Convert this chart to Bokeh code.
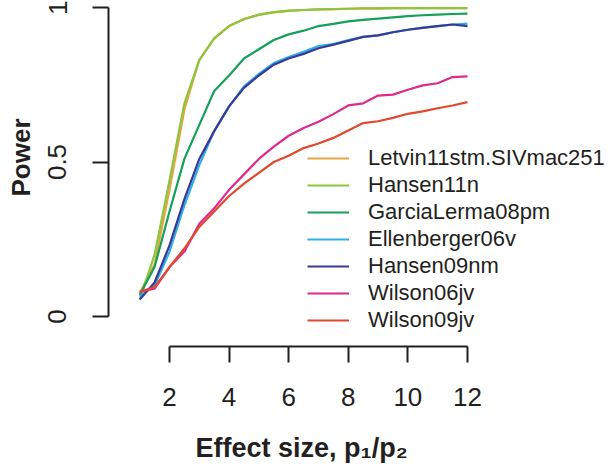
from bokeh.plotting import figure
from bokeh.models import Range1d, FixedTicker, Title
from bokeh.embed import file_html
from bokeh.resources import INLINE

# ---- data ----
effect = [1, 1.5, 2, 2.5, 3, 3.5, 4, 4.5, 5, 5.5, 6, 6.5, 7, 7.5, 8, 8.5,
          9, 9.5, 10, 10.5, 11, 11.5, 12]

letvin11stm = [0.075, 0.17, 0.41, 0.67, 0.83, 0.90, 0.94, 0.962, 0.976, 0.984,
               0.989, 0.992, 0.994, 0.995, 0.996, 0.997, 0.997, 0.998, 0.998,
               0.998, 0.998, 0.998, 0.998]
hansen11n = [0.055, 0.20, 0.44, 0.69, 0.83, 0.90, 0.94, 0.963, 0.977, 0.985,
             0.990, 0.992, 0.994, 0.995, 0.996, 0.997, 0.997, 0.998, 0.998,
             0.998, 0.998, 0.998, 0.998]
garcialerma08pm = [0.07, 0.16, 0.34, 0.51, 0.62, 0.73, 0.78, 0.835, 0.865, 0.895,
                   0.913, 0.925, 0.94, 0.947, 0.955, 0.96, 0.964, 0.968, 0.972,
                   0.975, 0.977, 0.979, 0.98]
ellenberger06v = [0.065, 0.10, 0.21, 0.36, 0.49, 0.60, 0.68, 0.745, 0.785, 0.82,
                  0.84, 0.857, 0.875, 0.882, 0.895, 0.905, 0.91, 0.92, 0.928,
                  0.935, 0.94, 0.945, 0.948]
hansen09nm = [0.055, 0.11, 0.23, 0.38, 0.51, 0.60, 0.68, 0.74, 0.78, 0.815,
              0.835, 0.85, 0.868, 0.88, 0.892, 0.905, 0.91, 0.92, 0.928,
              0.934, 0.94, 0.945, 0.94]
wilson06jv = [0.08, 0.09, 0.16, 0.21, 0.30, 0.35, 0.41, 0.46, 0.51, 0.55,
              0.585, 0.61, 0.63, 0.655, 0.683, 0.69, 0.715, 0.718, 0.734,
              0.748, 0.755, 0.775, 0.777]
wilson09jv = [0.08, 0.095, 0.16, 0.22, 0.29, 0.34, 0.39, 0.43, 0.465, 0.50,
              0.52, 0.545, 0.56, 0.578, 0.602, 0.626, 0.632, 0.643, 0.656,
              0.664, 0.674, 0.683, 0.694]

series_names = ["Letvin11stm.SIVmac251", "Hansen11n", "GarciaLerma08pm",
                "Ellenberger06v", "Hansen09nm", "Wilson06jv", "Wilson09jv"]
series_values = [letvin11stm, hansen11n, garcialerma08pm, ellenberger06v,
                 hansen09nm, wilson06jv, wilson09jv]
series_colors = ["#E8A444", "#8CC63F", "#15A05A", "#2DB0E6", "#393A97",
                 "#DC2A8F", "#E04830"]

x_ticks = [2, 4, 6, 8, 10, 12]
y_ticks = [0, 0.5, 1]
y_tick_labels = {0: "0", 0.5: "0.5", 1: "1"}
x_title = "Effect size, p\u2081/p\u2082"
y_title = "Power"

FONT = "Liberation Sans"
INK = "#231F20"

p = figure(width=610, height=468, output_backend="svg", toolbar_location=None,
           x_range=Range1d(-0.047, 16.8), y_range=Range1d(-0.0971, 1.0227),
           min_border_left=108, min_border_right=0, min_border_top=0,
           min_border_bottom=122)
p.outline_line_color = None
p.xgrid.visible = False
p.ygrid.visible = False
p.background_fill_color = "white"
p.border_fill_color = "white"

for name, vals, col in zip(series_names, series_values, series_colors):
    p.line(effect, vals, line_color=col, line_width=2.2, legend_label=name)

# axes (R style, detached, with bounds)
for ax in (p.xaxis[0], p.yaxis[0]):
    ax.axis_line_color = INK
    ax.axis_line_width = 2
    ax.major_tick_line_color = INK
    ax.major_tick_line_width = 2
    ax.major_tick_in = 0
    ax.major_tick_out = 16
    ax.minor_tick_line_color = None
    ax.major_label_text_font = FONT
    ax.major_label_text_font_size = "26px"
    ax.major_label_text_color = INK
    # thin blank label only used as a gap before the axis title
    ax.axis_label = " "
    ax.axis_label_text_font_size = "1px"

xa = p.xaxis[0]
xa.ticker = FixedTicker(ticks=x_ticks)
xa.bounds = (x_ticks[0], x_ticks[-1])
xa.major_label_standoff = 25
xa.axis_label_standoff = 16

ya = p.yaxis[0]
ya.ticker = FixedTicker(ticks=y_ticks)
ya.bounds = (y_ticks[0], y_ticks[-1])
ya.major_label_overrides = y_tick_labels
ya.major_label_orientation = "vertical"
ya.major_label_standoff = 26
ya.axis_label_standoff = 6

# axis titles, placed under / beside the data region of the axes
xt = Title(text=x_title, align="left", offset=87, standoff=4,
           text_font=FONT, text_font_size="27px", text_font_style="bold",
           text_color=INK)
p.add_layout(xt, "below")
yt = Title(text=y_title, align="left", offset=150, standoff=0,
           text_font=FONT, text_font_size="26px", text_font_style="bold",
           text_color=INK)
p.add_layout(yt, "left")

lg = p.legend[0]
lg.location = (199, 13)
lg.glyph_width = 42
lg.glyph_height = 26
lg.label_height = 26
lg.label_standoff = 19
lg.spacing = 1
lg.padding = 0
lg.margin = 0
lg.border_line_color = None
lg.background_fill_alpha = 0
lg.label_text_font = FONT
lg.label_text_font_size = "22px"
lg.label_text_color = INK

open("out.html", "w").write(file_html(p, INLINE))
